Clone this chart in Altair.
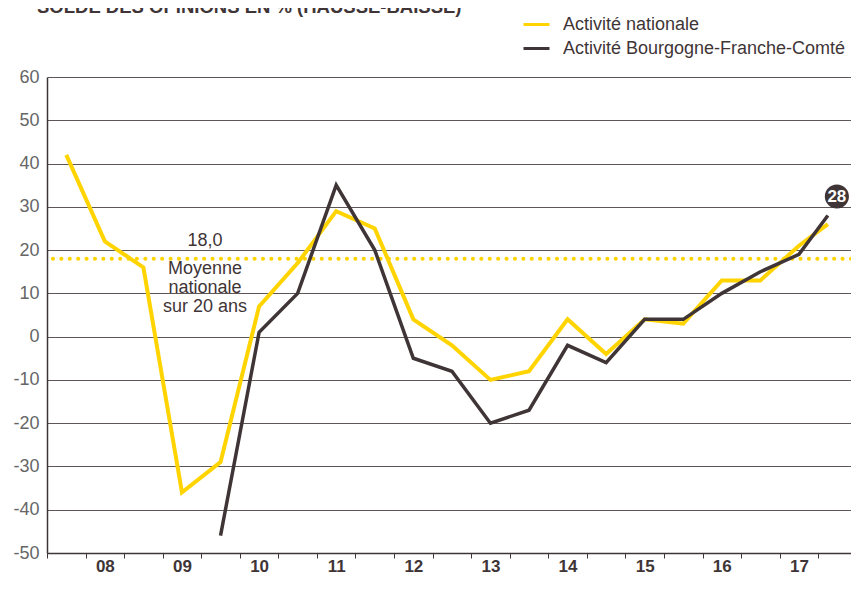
import altair as alt
import pandas as pd

# ---- data ----
half_year_pos = [0, 1, 2, 3, 4, 5, 6, 7, 8, 9, 10, 11, 12, 13, 14, 15, 16, 17, 18, 19, 19.75]
national = [42, 22, 16, -36, -29, 7, 17, 29, 25, 4, -2, -10, -8, 4, -4, 4, 3, 13, 13, 21, 26]
bfc = [None, None, None, None, -46, 1, 10, 35, 20, -5, -8, -20, -17, -2, -6, 4, 4, 10, 15, 19, 28]
year_labels = ["08", "09", "10", "11", "12", "13", "14", "15", "16", "17"]
series_names = ["Activité nationale", "Activité Bourgogne-Franche-Comté"]
mean_value = 18.0
mean_label = ["Moyenne", "nationale", "sur 20 ans"]
title_text = "SOLDE DES OPINIONS EN % (HAUSSE-BAISSE)"

YELLOW = "#FFD400"
DARK = "#3F3537"
GRID = "#5e5656"
FONT = "Liberation Sans"

rows = []
for name, vals in zip(series_names, [national, bfc]):
    for p, v in zip(half_year_pos, vals):
        if v is not None:
            rows.append({"pos": p, "value": v, "series": name})
df = pd.DataFrame(rows)
df_nat = df[df.series == series_names[0]]
df_bfc = df[df.series == series_names[1]]
last_bfc = df_bfc.tail(1)

mean_df = pd.DataFrame({"value": [mean_value], "pos": [3.6],
                        "label": [f"{mean_value:.1f}".replace(".", ",")],
                        "note": [mean_label]})

PAD_T = 69
W, H = 804, 476
X_MIN, X_MAX = -0.5, 20.35
boundaries = [k - 0.5 for k in range(21)]
step_px = W / (X_MAX - X_MIN)
label_map = "[" + ",".join("'" + s + "'" for s in year_labels) + "]"
label_expr = (f"((datum.value - 0.5) % 2 == 0 && datum.value < 19) ? "
              f"{label_map}[(datum.value - 0.5) / 2] : ''")

xscale = alt.Scale(domain=[X_MIN, X_MAX], nice=False, zero=False)
yscale = alt.Scale(domain=[-50, 60], nice=False, zero=False)

xaxis = alt.Axis(values=boundaries, tickSize=5, tickColor=DARK, tickWidth=1,
                 domainColor=DARK, domainWidth=1.5, grid=False,
                 labelExpr=label_expr, labelOffset=step_px / 2,
                 labelFont=FONT, labelFontSize=17, labelFontWeight="bold",
                 labelColor=DARK, labelPadding=0, labelFlush=False,
                 labelOverlap=False, title=None)
yaxis = alt.Axis(values=list(range(-50, 61, 10)), grid=True, gridColor=GRID,
                 gridWidth=1, tickSize=0, domainColor=DARK, domainWidth=1.5,
                 labelPadding=8, labelFont=FONT, labelFontSize=18,
                 labelColor="#666666", labelExpr="'' + datum.value", title=None)

X = alt.X("pos:Q", scale=xscale, axis=xaxis)
Y = alt.Y("value:Q", scale=yscale, axis=yaxis)

color = alt.Color("series:N",
                  scale=alt.Scale(domain=series_names, range=[YELLOW, DARK]),
                  legend=alt.Legend(title=None, orient="none", legendX=475,
                                    legendY=10 - (PAD_T + 8),
                                    symbolType="stroke", symbolSize=676,
                                    symbolStrokeWidth=3, labelFont=FONT,
                                    labelFontSize=18, labelColor=DARK,
                                    labelOffset=12, rowPadding=0, padding=0,
                                    labelLimit=500))

mean_rule = alt.Chart(mean_df).mark_rule(
    color=YELLOW, strokeWidth=4, strokeDash=[0.1, 8.3], strokeCap="round"
).encode(y=Y)

mean_value_text = alt.Chart(mean_df).mark_text(
    font=FONT, fontSize=18, color=DARK, baseline="middle", align="center", dy=-18
).encode(x=X, y=Y, text="label:N")

mean_note_text = alt.Chart(mean_df).mark_text(
    font=FONT, fontSize=18, color=DARK, baseline="top", align="center",
    dy=1, lineHeight=19
).encode(x=X, y=Y, text="note")

line_nat = alt.Chart(df_nat).mark_line(strokeWidth=4, strokeJoin="miter").encode(
    x=X, y=Y, color=color)
line_bfc = alt.Chart(df_bfc).mark_line(strokeWidth=3.5, strokeJoin="miter").encode(
    x=X, y=Y, color=color)

bubble = alt.Chart(last_bfc).mark_circle(
    size=580, color=DARK, opacity=1, xOffset=9, yOffset=-19).encode(x=X, y=Y)
bubble_text = alt.Chart(last_bfc).mark_text(
    font=FONT, fontSize=17, fontWeight="bold", color="white",
    dx=9, dy=-18, baseline="middle", align="center").encode(
    x=X, y=Y, text=alt.Text("value:Q", format="d"))

title = alt.Chart(pd.DataFrame({"t": [title_text]})).mark_text(
    font=FONT, fontSize=18.5, fontWeight="bold", color=DARK,
    align="left", baseline="alphabetic").encode(
    x=alt.value(-10), y=alt.value(13 - (PAD_T + 8)), text="t:N")

chart = alt.layer(
    mean_rule, line_nat, line_bfc, mean_value_text, mean_note_text,
    bubble, bubble_text, title
).properties(
    width=W, height=H,
    autosize=alt.AutoSizeParams(type="none"),
    padding={"left": 39, "top": PAD_T, "right": 0, "bottom": 25},
).configure_view(strokeWidth=0)

chart.save("out.html", embed_options={"renderer": "svg", "actions": False})
